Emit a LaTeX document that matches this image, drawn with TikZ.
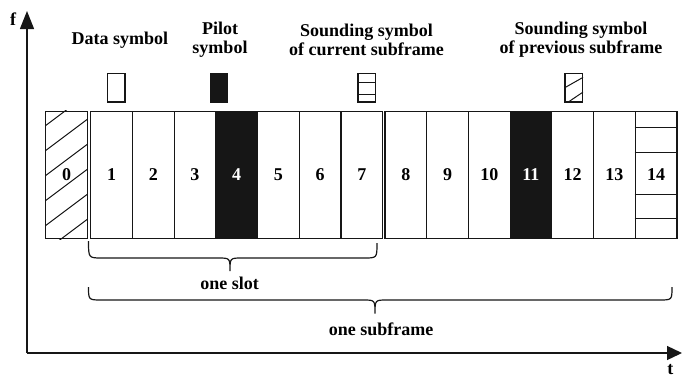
\documentclass[tikz,border=0pt]{standalone}
\usepackage{fontspec}
\setmainfont{Liberation Serif}
\usetikzlibrary{arrows.meta}
\definecolor{ink}{HTML}{161616}
\tikzset{
  every node/.style={font=\fontsize{18}{19}\selectfont\bfseries, inner sep=0pt},
  cellbox/.style={draw=ink, line width=1.2pt, minimum width=41.7pt, minimum height=127.4pt, anchor=center},
  pilotbox/.style={cellbox, fill=ink, text=white},
  iconbox/.style={draw=ink, line width=1.2pt, minimum width=17.5pt, minimum height=28.5pt},
  thin/.style={draw=ink, line width=1pt},
  axis/.style={draw=ink, line width=1.3pt},
  bracestyle/.style={draw=ink, line width=1.2pt},
  caption/.style={align=center},
}
\begin{document}
\begin{tikzpicture}[x=1pt, y=-1pt]
\useasboundingbox (0,0) rectangle (682,378);

% axes
\coordinate (origin) at (27,353);
\coordinate (fend) at (27,11);
\coordinate (tend) at (682,353);
\draw[axis, -{Triangle[length=18pt, width=14pt]}] (origin) -- (fend);
\draw[axis, -{Triangle[length=15pt, width=14pt]}] (origin) -- (tend);
\node[anchor=base] (flabel) at (13,25) {f};
\node[anchor=base] (tlabel) at (670.3,374.5) {t};

% symbol 0: sounding symbol of the previous subframe
\node[cellbox] (c0) at (66.5,175) {};
\begin{scope}
  \clip (c0.south west) rectangle (c0.north east);
  \foreach \yy in {126,151,176,201,226,251}
    \draw[thin] (45,\yy) -- ++(50,-37.5);
\end{scope}
\node (n0) at (c0.center) {0};

% symbols 1..7 (first slot) and 8..14 (second slot)
\foreach \i in {1,2,3,5,6,7}
  \node[cellbox] (c\i) at ({90.7+41.7*(\i-0.5)},175) {\i};
\node[pilotbox] (c4) at ({90.7+41.7*3.5},175) {4};
\foreach \i in {8,9,10,12,13}
  \node[cellbox] (c\i) at ({385+41.7*(\i-7.5)},175) {\i};
\node[pilotbox] (c11) at ({385+41.7*3.5},175) {11};
\node[cellbox] (c14) at ({385+41.7*6.5},175) {};
\foreach \yy in {127.7,152.3,194.3,218.3}
  \draw[ink, line width=1.2pt] (c14.west |- 0,\yy) -- (c14.east |- 0,\yy);
\node (n14) at (c14.center) {14};

% legend
\node[anchor=base] (tdata) at (120,44.3) {Data symbol};
\node[caption] (tpilot) at (220,40) {Pilot\\symbol};
\node[caption] (tcur) at (366.5,40) {Sounding symbol\\of current subframe};
\node[caption] (tprev) at (581,40) {Sounding symbol\\of previous subframe};

\node[iconbox] (idata) at (116.3,87.8) {};
\node[iconbox, fill=ink] (ipilot) at (218.9,87.8) {};
\node[iconbox] (icur) at (366.7,87.8) {};
\draw[thin] ([yshift=-9.4pt]icur.north west) -- ([yshift=-9.4pt]icur.north east);
\draw[thin] ([yshift=8pt]icur.south west) -- ([yshift=8pt]icur.south east);
\node[iconbox] (iprev) at (573.7,87.8) {};
\begin{scope}
  \clip (iprev.south west) rectangle (iprev.north east);
  \draw[thin] ([yshift=-15pt]iprev.north west) -- ([yshift=-4.4pt]iprev.north east);
  \draw[thin] ([xshift=3pt]iprev.south west) -- ([yshift=10.6pt]iprev.south east);
\end{scope}

% braces
\coordinate (slotL) at (88.5,241);
\coordinate (slotR) at (377,243);
\coordinate (slotTip) at (230,271);
\draw[bracestyle] (slotL) .. controls (88.5,258) .. (102,258) -- (218,258)
  .. controls (230,258) .. (slotTip) .. controls (230,258) .. (242,258) -- (364,258)
  .. controls (377,258) .. (slotR);
\node[anchor=base] (lslot) at (229.5,289.3) {one slot};

\coordinate (subL) at (88.5,287);
\coordinate (subR) at (672,287);
\coordinate (subTip) at (375,313.5);
\draw[bracestyle] (subL) .. controls (88.5,300) .. (102,300) -- (363,300)
  .. controls (375,300) .. (subTip) .. controls (375,300) .. (387,300) -- (659,300)
  .. controls (672,300) .. (subR);
\node[anchor=base] (lsub) at (381,335) {one subframe};
\end{tikzpicture}
\end{document}
